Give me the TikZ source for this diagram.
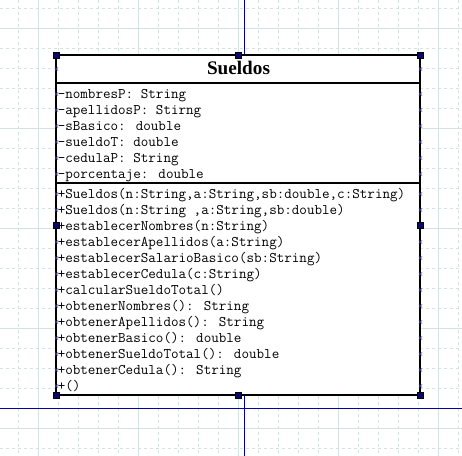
\documentclass[tikz,border=0pt]{standalone}
\usepackage{fontspec}
\setmainfont{Liberation Serif}
\definecolor{gridc}{RGB}{212,226,226}
\definecolor{selblue}{RGB}{0,0,170}
\definecolor{handlec}{RGB}{10,10,100}
\definecolor{xmark}{RGB}{70,70,210}
\begin{document}
\begin{tikzpicture}[x=0.75pt,y=-0.75pt,
  minorgrid/.style={draw=gridc, line width=0.75pt, dash pattern=on 2.25pt off 2.25pt},
  majorgrid/.style={draw=gridc, line width=0.75pt},
  selline/.style={draw=selblue, line width=0.75pt},
  boxline/.style={draw=black, line width=1.6pt},
  titletext/.style={font=\fontsize{14.4pt}{16pt}\selectfont\bfseries, inner sep=0pt, anchor=base},
  member/.style={font=\fontsize{11pt}{12pt}\selectfont\ttfamily, inner sep=0pt, anchor=base west},
  handle/.style={draw=black, fill=handlec, line width=0.4pt, inner sep=0pt, minimum size=4.6pt},
  xm/.style={draw=xmark, line width=0.5pt}
]
\useasboundingbox (0,0) rectangle (462,456);
\fill[white] (0,0) rectangle (462,456);
% grid
\foreach \x in {18.5,38.5,...,458.5} \draw[minorgrid] (\x,0) -- (\x,456);
\foreach \y in {8.5,28.5,...,448.5} \draw[minorgrid] (0,\y) -- (462,\y);
\foreach \x in {38.5,138.5,...,438.5} \draw[majorgrid] (\x,0) -- (\x,456);
\foreach \y in {28.5,128.5,...,428.5} \draw[majorgrid] (0,\y) -- (462,\y);
% selection guide lines
\coordinate (gtop) at (245,0);
\coordinate (gboxtop) at (245,55);
\coordinate (gboxbot) at (245,395);
\coordinate (gbot) at (245,456);
\coordinate (hl) at (0,409);
\coordinate (hr) at (462,409);
\draw[selline] (gtop) -- (gboxtop);
\draw[selline] (gboxbot) -- (gbot);
\draw[selline] (hl) -- (hr);
% class box
\coordinate (nw) at (56,55);
\coordinate (se) at (420,395);
\draw[boxline, fill=white] (nw) rectangle (se);
\draw[boxline] (56,83) -- (420,83);
\draw[boxline] (56,183) -- (420,183);
% title
\node[titletext] (title) at (238.5,75) {Sueldos};
% attributes
\foreach \t [count=\i from 0] in {%
  {-nombresP: String},
  {-apellidosP: Stirng},
  {-sBasico: double},
  {-sueldoT: double},
  {-cedulaP: String},
  {-porcentaje: double}}
  \node[member] (attr\i) at (57.5,99+16*\i) {\t};
% methods
\foreach \t [count=\i from 0] in {%
  {+Sueldos(n:String,a:String,sb:double,c:String)},
  {+Sueldos(n:String ,a:String,sb:double)},
  {+establecerNombres(n:String)},
  {+establecerApellidos(a:String)},
  {+establecerSalarioBasico(sb:String)},
  {+establecerCedula(c:String)},
  {+calcularSueldoTotal()},
  {+obtenerNombres(): String},
  {+obtenerApellidos(): String},
  {+obtenerBasico(): double},
  {+obtenerSueldoTotal(): double},
  {+obtenerCedula(): String},
  {+()}}
  \node[member] (meth\i) at (57.5,199+16*\i) {\t};
% x marks along edges
\foreach \yy in {69,94,110,126,142,158,174,194,210,226,242,258,274,290,306,322,338,354,370,386}
  \foreach \xx in {56.5,420.5} {
    \draw[xm] (\xx-1.6,\yy-1.6) -- (\xx+1.6,\yy+1.6);
    \draw[xm] (\xx-1.6,\yy+1.6) -- (\xx+1.6,\yy-1.6);
  }
% handles
\foreach \p [count=\k] in {(56,55),(238,55),(420,55),(56,225),(420,225),(56,395),(238,395),(420,395)}
  \node[handle] (h\k) at \p {};
\end{tikzpicture}
\end{document}
